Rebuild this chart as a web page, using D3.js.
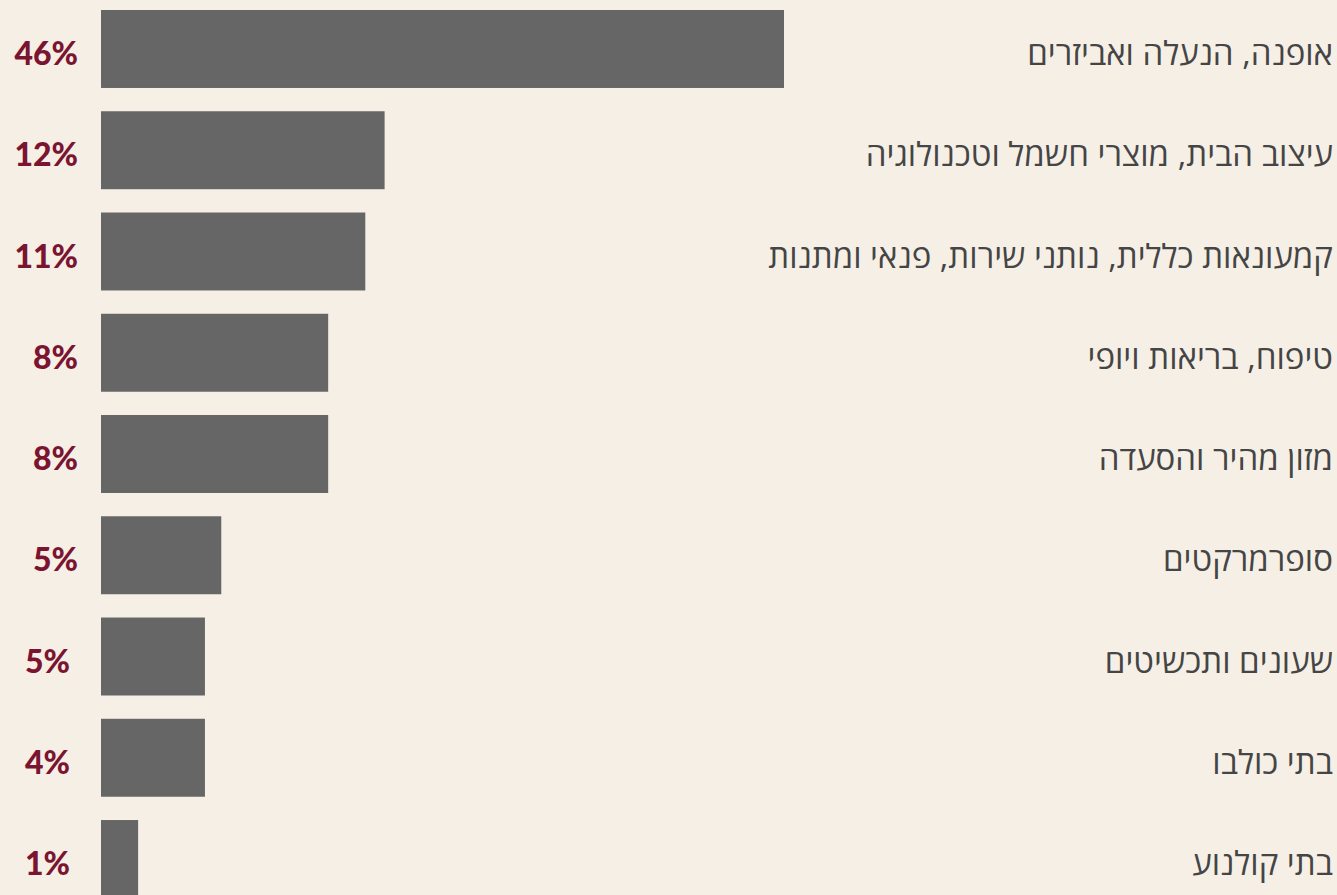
<!DOCTYPE html>
<html lang="he">
<head>
<meta charset="utf-8">
<script src="https://cdn.jsdelivr.net/npm/d3@7"></script>
<style>
  html, body { margin: 0; padding: 0; background: #f6efe6; }
  svg { display: block; }
  .catLabel { font-family: "Open Sans", "DejaVu Sans", sans-serif; font-size: 33px; fill: #454545; }
  .pctLabel { font-family: Lato, Roboto, sans-serif; font-weight: 900; font-size: 32px; fill: #7a1430; }
</style>
</head>
<body>
<div id="chart"></div>
<script>
//=========Data=========//
// category names (top to bottom)
var categories = [
  "אופנה, הנעלה ואביזרים",
  "עיצוב הבית, מוצרי חשמל וטכנולוגיה",
  "קמעונאות כללית, נותני שירות, פנאי ומתנות",
  "טיפוח, בריאות ויופי",
  "מזון מהיר והסעדה",
  "סופרמרקטים",
  "שעונים ותכשיטים",
  "בתי כולבו",
  "בתי קולנוע"
];
// printed percent labels
var percents = [46, 12, 11, 8, 8, 5, 5, 4, 1];
// bar lengths as drawn (same % units as the top bar)
var barValues = [46, 19.1, 17.8, 15.3, 15.3, 8.1, 7.0, 7.0, 2.5];

//=========SVG area=========//
var svgWidth = 1337;
var svgHeight = 895;

var margin = { top: 10, right: 4, bottom: 0, left: 101 };

var svg = d3
  .select("#chart")
  .append("svg")
  .attr("width", svgWidth)
  .attr("height", svgHeight);

var data = categories.map(function (c, i) {
  return { name: c, pct: percents[i], bar: barValues[i] };
});

//=========Scales=========//
var xScale = d3.scaleLinear().domain([0, 46]).range([margin.left, margin.left + 683]);

var yScale = d3
  .scaleBand()
  .domain(categories)
  .range([margin.top, margin.top + 888])
  .paddingInner(0.23)
  .paddingOuter(0);

//=========Bars=========//
svg
  .selectAll("rect.bar")
  .data(data)
  .enter()
  .append("rect")
  .attr("class", "bar")
  .attr("x", xScale(0))
  .attr("y", (d) => yScale(d.name))
  .attr("width", (d) => xScale(d.bar) - xScale(0))
  .attr("height", yScale.bandwidth())
  .attr("fill", "#666666");

//=========Percent labels (left)=========//
// the last three labels sit a little further left in the original
svg
  .selectAll("text.pctLabel")
  .data(data)
  .enter()
  .append("text")
  .attr("class", "pctLabel")
  .attr("x", (d, i) => (i > 5 ? 70 : 78))
  .attr("y", (d) => yScale(d.name) + 55)
  .attr("text-anchor", "end")
  .text((d) => d.pct + "%");

//=========Category labels (right)=========//
svg
  .selectAll("text.catLabel")
  .data(data)
  .enter()
  .append("text")
  .attr("class", "catLabel")
  .attr("x", svgWidth - margin.right)
  .attr("y", (d) => yScale(d.name) + 55)
  .attr("direction", "rtl")
  .attr("text-anchor", "start")
  .text((d) => d.name);
</script>
</body>
</html>
